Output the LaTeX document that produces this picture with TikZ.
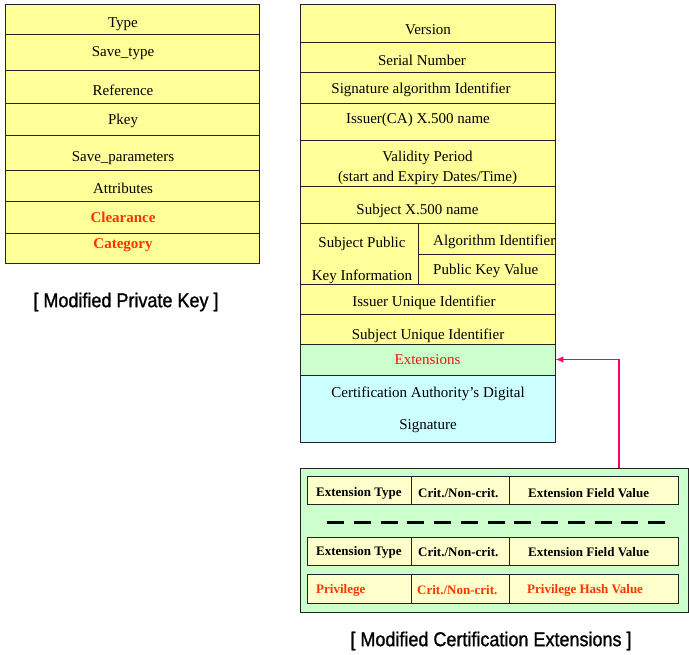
\documentclass[tikz,border=0pt]{standalone}
\usepackage{fontspec}
\setmainfont{Liberation Serif}
\newfontfamily\capfont[FakeBold=1.2]{Liberation Sans}
\usepackage{graphicx}
\usetikzlibrary{arrows.meta}
\definecolor{cellyellow}{HTML}{FFFF99}
\definecolor{cellgreen}{HTML}{CCFFCC}
\definecolor{cellcyan}{HTML}{CCFFFF}
\definecolor{rowyellow}{HTML}{FFFFCC}
\definecolor{hotred}{HTML}{FF3300}
\definecolor{extred}{HTML}{EE1111}
\definecolor{linkpink}{HTML}{FF0066}
\definecolor{rulegray}{HTML}{222222}
\begin{document}
\begin{tikzpicture}[x=1pt,y=-1pt,
  cell/.style={draw=rulegray, line width=0.9pt, fill=cellyellow},
  sep/.style={draw=rulegray, line width=0.9pt},
  txt/.style={inner sep=0pt, yshift=-2pt, font=\fontsize{15}{17}\selectfont},
  hot/.style={inner sep=0pt, yshift=-2pt, text=hotred, font=\fontsize{15}{17}\selectfont\bfseries},
  row/.style={draw=rulegray, line width=1pt, fill=rowyellow},
  rtxt/.style={inner sep=0pt, anchor=west, yshift=-1pt, font=\fontsize{13}{15}\selectfont\bfseries},
  rhot/.style={rtxt, text=hotred},
  caption/.style={inner sep=0pt, font=\capfont\fontsize{20}{22}\selectfont},
  link/.style={draw=linkpink, line width=1.4pt, -{Latex[length=8pt,width=6.5pt]}}]
\useasboundingbox (0,0) rectangle (689,655);

% ---------- private key record ----------
\path[cell] (5,4) rectangle (259,263);
\foreach \yy in {34,70,103,135,170,201,233}
  \draw[sep] (5,\yy) -- (259,\yy);
\node[txt] (pkType)   at (123,22)  {Type};
\node[txt] (pkSave)   at (123,51)  {Save\_type};
\node[txt] (pkRef)    at (123,88)  {Reference};
\node[txt] (pkKey)    at (123,119) {Pkey};
\node[txt] (pkParams) at (123,156) {Save\_parameters};
\node[txt] (pkAttr)   at (123,186) {Attributes};
\node[hot] (pkClear)  at (123,215) {Clearance};
\node[hot] (pkCat)    at (123,243) {Category};
\node[caption] (pkCaption) at (126,302) {\scalebox{0.9}[1]{[ Modified Private Key ]}};

% ---------- certificate fields ----------
\path[cell] (300,4) rectangle (555,344);
\foreach \yy in {42,72,103,140,186,223,284,314}
  \draw[sep] (300,\yy) -- (555,\yy);
\draw[sep] (418,223) -- (418,284);
\draw[sep] (418,254) -- (555,254);
\node[txt] (cVersion) at (428,28)  {Version};
\node[txt] (cSerial)  at (422,58)  {Serial Number};
\node[txt] (cSigAlg)  at (421,88)  {Signature algorithm Identifier};
\node[txt] (cIssuer)  at (418,118) {Issuer(CA) X.500 name};
\node[txt] (cValid)   at (427.5,156) {Validity Period};
\node[txt] (cValid2)  at (427.5,176) {(start and Expiry Dates/Time)};
\node[txt] (cSubject) at (417.5,209) {Subject X.500 name};
\node[txt] (cSpki1)   at (362,242) {Subject Public};
\node[txt] (cSpki2)   at (362,275) {Key Information};
\node[txt, anchor=west] (cAlgId) at (433,240) {Algorithm Identifier};
\node[txt, anchor=west] (cPkVal) at (433,269) {Public Key Value};
\node[txt] (cIssUid)  at (424,301) {Issuer Unique Identifier};
\node[txt] (cSubUid)  at (428,334) {Subject Unique Identifier};
\node[cell, fill=cellgreen, minimum width=255pt, minimum height=31pt, inner sep=0pt,
      text=extred, font=\fontsize{15}{17}\selectfont] (ext) at (427.5,359.5) {\raisebox{-2pt}{Extensions}};
\path[cell, fill=cellcyan] (300,375) rectangle (555,442);
\node[txt] (caSig1) at (428,392) {Certification Authority’s Digital};
\node[txt] (caSig2) at (428,424) {Signature};

% ---------- extension list ----------
\node[draw=rulegray, line width=1pt, fill=cellgreen, minimum width=388pt,
      minimum height=144pt, inner sep=0pt] (panel) at (494,540) {};
\foreach \ya/\yb in {476/504, 537/565, 574/603} {
  \path[row] (307,\ya) rectangle (678,\yb);
  \draw[sep] (411,\ya) -- (411,\yb);
  \draw[sep] (509,\ya) -- (509,\yb);
}
\node[rtxt] (e1Type) at (316,492) {Extension Type};
\node[rtxt] (e1Crit) at (418,492) {Crit./Non-crit.};
\node[rtxt] (e1Val)  at (528,492) {Extension Field Value};
\draw[line width=3pt, draw=black, dash pattern=on 17pt off 9.75pt] (327,522) -- (665,522);
\node[rtxt] (e2Type) at (316,551) {Extension Type};
\node[rtxt] (e2Crit) at (418,551) {Crit./Non-crit.};
\node[rtxt] (e2Val)  at (528,551) {Extension Field Value};
\node[rhot] (e3Type) at (316,589) {Privilege};
\node[rhot] (e3Crit) at (417,589) {Crit./Non-crit.};
\node[rhot] (e3Val)  at (527,589) {Privilege Hash Value};
\node[caption] (extCaption) at (491,641) {\scalebox{0.9}[1]{[ Modified Certification Extensions ]}};

% ---------- link from the extension list to the Extensions field ----------
\coordinate (tap) at (619,468);
\draw[link] (tap) |- (ext.east);
\end{tikzpicture}
\end{document}
